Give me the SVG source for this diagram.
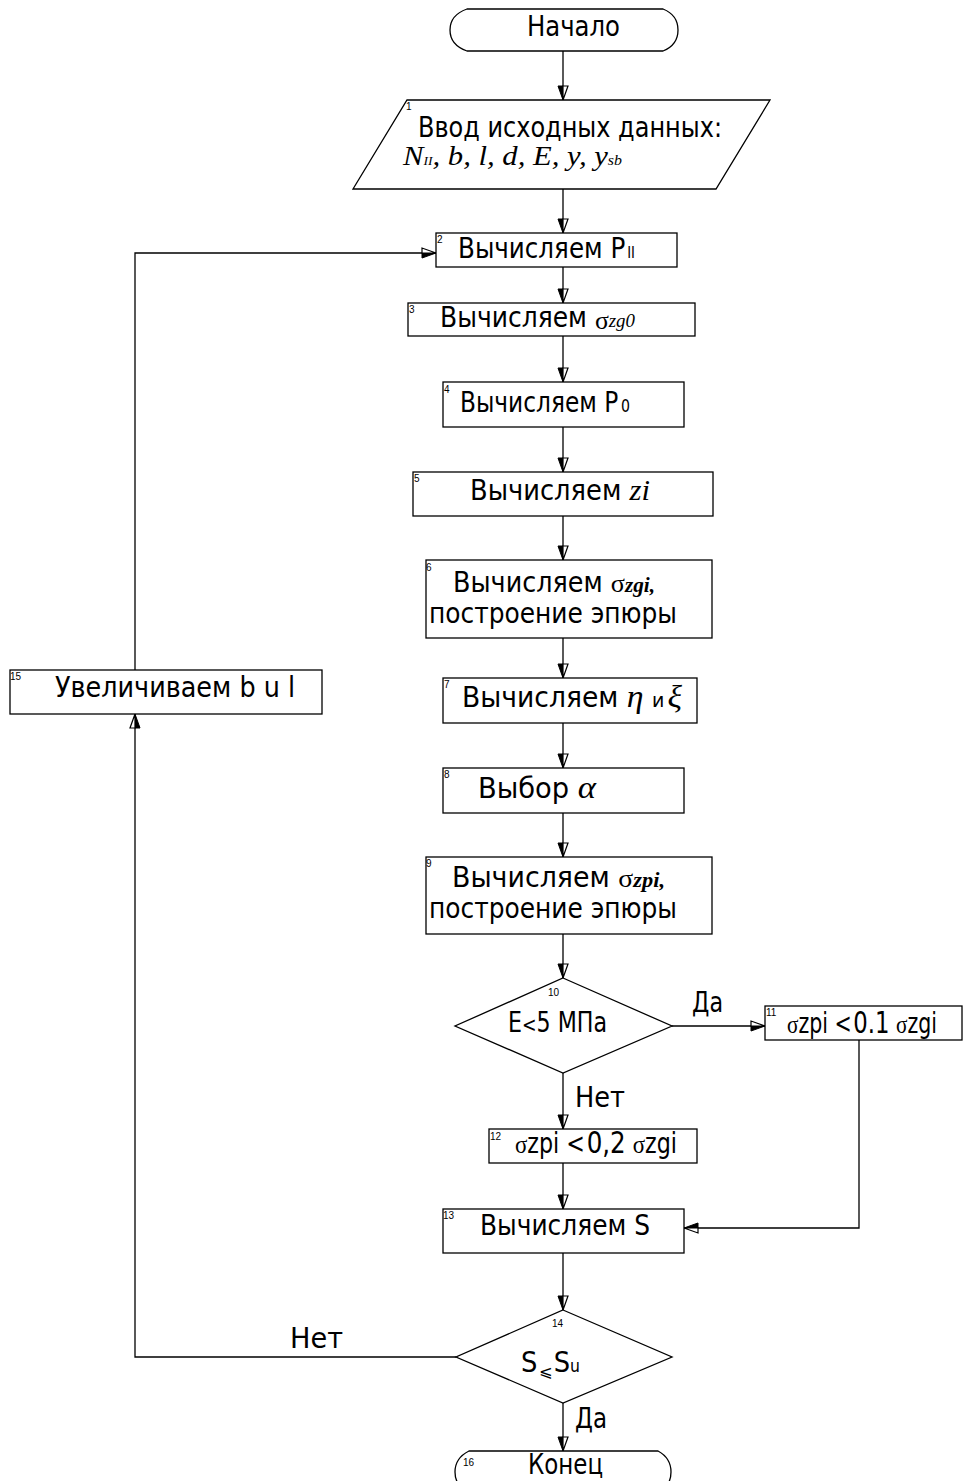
<svg xmlns="http://www.w3.org/2000/svg" width="963" height="1481" viewBox="0 0 963 1481">
<style>
.b{fill:#fff;stroke:#000;stroke-width:1.3}
.c{fill:none;stroke:#000;stroke-width:1.3}
.t{font-family:"Liberation Sans Narrow","DejaVu Sans Condensed","Liberation Sans",sans-serif;font-size:28px;fill:#000}
.m{font-family:"Liberation Serif",serif;font-style:italic;fill:#000}
.g{font-family:"Liberation Serif","DejaVu Serif",serif;font-style:normal}
.i{font-family:"Liberation Serif",serif;font-style:italic}
.n{font-family:"Liberation Sans",sans-serif;font-size:10px;fill:#000}
</style>
<defs>
<marker id="ah" markerUnits="userSpaceOnUse" markerWidth="16" markerHeight="12" viewBox="-15 -6 16 12" refX="0" refY="0" orient="auto" overflow="visible">
<path d="M0,0 L-14,5 L-14,0 Z" fill="#000" stroke="#000" stroke-width="1"/>
<path d="M0,0 L-14,-5 L-14,0 Z" fill="#fff" stroke="#000" stroke-width="1.2"/>
</marker>
</defs>
<g id="connectors" class="c" marker-end="url(#ah)">
<path d="M563,51 V100"/>
<path d="M563,188 V233"/>
<path d="M563,267 V303"/>
<path d="M563,336 V382"/>
<path d="M563,427 V472"/>
<path d="M563,516 V560"/>
<path d="M563,638 V678"/>
<path d="M563,723 V768"/>
<path d="M563,813 V857"/>
<path d="M563,934 V978"/>
<path d="M672,1026 H765"/>
<path d="M563,1073 V1129"/>
<path d="M563,1163 V1209"/>
<path d="M859,1040 V1228 H684"/>
<path d="M563,1253 V1310"/>
<path d="M456,1357 H135 V714"/>
<path d="M135,670 V253 H436"/>
<path d="M563,1403 V1451"/>
</g>
<g id="edge-labels">
<text class="t" x="692" y="1012" textLength="31" lengthAdjust="spacingAndGlyphs">Да</text>
<text class="t" x="575" y="1107" textLength="50" lengthAdjust="spacingAndGlyphs">Нет</text>
<text class="t" x="290" y="1348" textLength="53" lengthAdjust="spacingAndGlyphs">Нет</text>
<text class="t" x="575" y="1428" textLength="32" lengthAdjust="spacingAndGlyphs">Да</text>
</g>
<g id="start">
<path class="b" d="M467,9 L663,9 Q678,15 678,30 Q678,45 663,51 L467,51 Q450,45 450,30 Q450,15 467,9 Z"/>
<text class="t" x="527" y="36" textLength="93" lengthAdjust="spacingAndGlyphs">Начало</text>
</g>
<g id="n1">
<path class="b" d="M407,100 L770,100 L716,189 L353,189 Z"/>
<text class="n" x="406" y="110">1</text>
<text class="t" x="418" y="137" textLength="304" lengthAdjust="spacingAndGlyphs">Ввод исходных данных:</text>
<text class="m" x="403" y="165" font-size="27" textLength="219" lengthAdjust="spacingAndGlyphs">N<tspan font-size="12">II</tspan>, b, l,  d,  E, y, y<tspan font-size="14">sb</tspan></text>
</g>
<g id="n2">
<rect class="b" x="436" y="233" width="241" height="34"/>
<text class="n" x="437" y="243">2</text>
<text class="t" x="458" y="258" textLength="177" lengthAdjust="spacingAndGlyphs">Вычисляем P<tspan font-size="15" dx="2">II</tspan></text>
</g>
<g id="n3">
<rect class="b" x="408" y="303" width="287" height="33"/>
<text class="n" x="409" y="313">3</text>
<text class="t" x="440" y="327" textLength="195" lengthAdjust="spacingAndGlyphs">Вычисляем <tspan class="g" font-size="26" dy="2">σ</tspan><tspan class="i" font-size="19" dy="-2">zg0</tspan></text>
</g>
<g id="n4">
<rect class="b" x="443" y="382" width="241" height="45"/>
<text class="n" x="444" y="393">4</text>
<text class="t" x="460" y="412" textLength="170" lengthAdjust="spacingAndGlyphs">Вычисляем P<tspan font-size="17" dx="3">0</tspan></text>
</g>
<g id="n5">
<rect class="b" x="413" y="472" width="300" height="44"/>
<text class="n" x="414" y="482">5</text>
<text class="t" x="470" y="500" textLength="180" lengthAdjust="spacingAndGlyphs">Вычисляем  <tspan class="i" font-size="30">zi</tspan></text>
</g>
<g id="n6">
<rect class="b" x="426" y="560" width="286" height="78"/>
<text class="n" x="426" y="571">6</text>
<text class="t" x="453" y="592" textLength="202" lengthAdjust="spacingAndGlyphs">Вычисляем <tspan class="g" font-size="26">σ</tspan><tspan class="i" font-size="21" font-weight="bold">zgi,</tspan></text>
<text class="t" x="429" y="623" textLength="248" lengthAdjust="spacingAndGlyphs">построение эпюры</text>
</g>
<g id="n7">
<rect class="b" x="443" y="678" width="254" height="45"/>
<text class="n" x="444" y="688">7</text>
<text class="t" x="462" y="707" textLength="220" lengthAdjust="spacingAndGlyphs">Вычисляем  <tspan class="i" font-size="32">η</tspan> <tspan font-size="20">и</tspan><tspan class="i" font-size="32" dx="3">ξ</tspan></text>
</g>
<g id="n8">
<rect class="b" x="443" y="768" width="241" height="45"/>
<text class="n" x="444" y="778">8</text>
<text class="t" x="478" y="798" textLength="118" lengthAdjust="spacingAndGlyphs">Выбор  <tspan class="i" font-size="32">α</tspan></text>
</g>
<g id="n9">
<rect class="b" x="426" y="857" width="286" height="77"/>
<text class="n" x="426" y="867">9</text>
<text class="t" x="452" y="887" textLength="213" lengthAdjust="spacingAndGlyphs">Вычисляем  <tspan class="g" font-size="26">σ</tspan><tspan class="i" font-size="21" font-weight="bold">zpi,</tspan></text>
<text class="t" x="429" y="918" textLength="248" lengthAdjust="spacingAndGlyphs">построение эпюры</text>
</g>
<g id="n10">
<path class="b" d="M563,978 L672,1026 L563,1073 L455,1026 Z"/>
<text class="n" x="548" y="996">10</text>
<text class="t" x="508" y="1032" textLength="99" lengthAdjust="spacingAndGlyphs">E<tspan font-size="22">&lt;</tspan>5 МПа</text>
</g>
<g id="n11">
<rect class="b" x="765" y="1006" width="197" height="34"/>
<text class="n" x="766" y="1016">11</text>
<text class="t" x="787" y="1033" font-size="20" textLength="150" lengthAdjust="spacingAndGlyphs"><tspan class="g" font-size="26">σ</tspan>zpi &lt;<tspan font-size="31" dx="2">0.1</tspan>   <tspan class="g" font-size="26">σ</tspan>zgi</text>
</g>
<g id="n12">
<rect class="b" x="489" y="1129" width="208" height="34"/>
<text class="n" x="490" y="1140">12</text>
<text class="t" x="515" y="1153" font-size="20" textLength="162" lengthAdjust="spacingAndGlyphs"><tspan class="g" font-size="26">σ</tspan>zpi &lt;<tspan font-size="31" dx="2">0,2</tspan>   <tspan class="g" font-size="26">σ</tspan>zgi</text>
</g>
<g id="n13">
<rect class="b" x="443" y="1209" width="241" height="44"/>
<text class="n" x="443" y="1219">13</text>
<text class="t" x="480" y="1235" textLength="170" lengthAdjust="spacingAndGlyphs">Вычисляем S</text>
</g>
<g id="n14">
<path class="b" d="M563,1310 L672,1357 L563,1403 L456,1357 Z"/>
<text class="n" x="552" y="1327">14</text>
<text class="t" x="521" y="1372" textLength="59" lengthAdjust="spacingAndGlyphs">S<tspan class="g" font-size="16" dy="5" dx="2">⩽</tspan><tspan dy="-5" dx="1">S</tspan><tspan font-size="17">u</tspan></text>
</g>
<g id="n15">
<rect class="b" x="10" y="670" width="312" height="44"/>
<text class="n" x="10" y="680">15</text>
<text class="t" x="55" y="697" textLength="240" lengthAdjust="spacingAndGlyphs">Увеличиваем b u l</text>
</g>
<g id="end">
<path class="b" d="M469,1451 L658,1451 Q671,1458 671,1472 Q671,1486 658,1493 L469,1493 Q455,1486 455,1472 Q455,1458 469,1451 Z"/>
<text class="n" x="463" y="1466">16</text>
<text class="t" x="528" y="1474" textLength="75" lengthAdjust="spacingAndGlyphs">Конец</text>
</g>
</svg>
